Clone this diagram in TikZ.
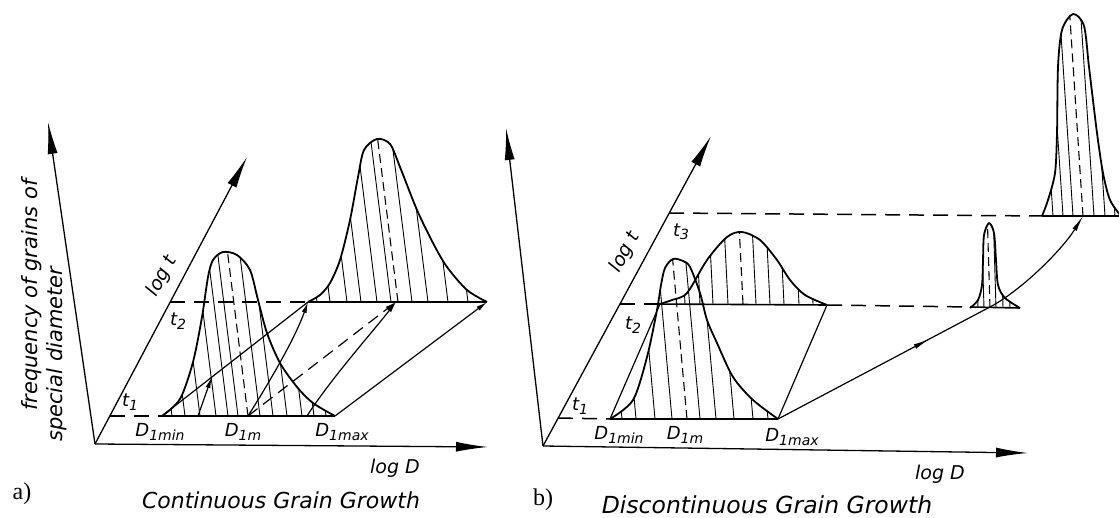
\documentclass[tikz,border=0pt]{standalone}
\usepackage{fontspec}
\setsansfont{DejaVu Sans}
\setmainfont{Liberation Serif}
\usetikzlibrary{arrows.meta,calc,decorations.markings}
% hatched distribution: coords, base y, slant, hatch xs, centre x
\newcommand\bellhatch[5]{%
  \begin{scope}
    \clip plot[smooth] coordinates {#1} -- cycle;
    \foreach \hx in {#4} \draw[hat] (\hx,#2) -- ++({-#3*260},-260);
    \draw[ctr] (#5,#2) -- ++({-#3*260},-260);
  \end{scope}
  \draw[crv] plot[smooth] coordinates {#1};}
\newcommand\sub[1]{\raisebox{-0.35ex}{\fontsize{14}{14}\selectfont#1}}

\begin{document}
\begin{tikzpicture}[x=1pt, y=-1pt,
  ax/.style={line width=1.3pt, -{Latex[length=32pt,width=10pt]}},
  crv/.style={line width=1.8pt, line join=round},
  hat/.style={line width=0.9pt},
  ctr/.style={line width=1.1pt, dash pattern=on 9pt off 5pt},
  lvl/.style={line width=1.5pt, dash pattern=on 15pt off 9pt},
  base/.style={line width=1.6pt},
  e/.style={line width=1.2pt, -{Latex[length=11pt,width=5pt]}},
  mid/.style={line width=1.2pt, postaction=decorate, decoration={markings,
    mark=at position #1 with {\arrow{Latex[length=16pt,width=5pt]}}}},
  lbl/.style={font=\sffamily\itshape\fontsize{18}{18}\selectfont, inner sep=1pt},
  lg/.style={font=\sffamily\itshape\fontsize{19}{19}\selectfont, inner sep=1pt},
  ttl/.style={font=\sffamily\itshape\fontsize{22}{22}\selectfont, inner sep=1pt},
  capt/.style={font=\rmfamily\fontsize{24}{24}\selectfont, inner sep=1pt}]
\useasboundingbox (0,0) rectangle (1119,518);

% ---- a) continuous
\coordinate (oa) at (95,444); \coordinate (fa) at (48,122);
\coordinate (da) at (488,447); \coordinate (ta) at (247,157);
\coordinate (a1) at (110,416); \coordinate (a2) at (170,302);
\coordinate (p1min) at (162,416); \coordinate (p1m) at (248,416); \coordinate (p1max) at (335,416);
\coordinate (p2min) at (308,302); \coordinate (p2m) at (396,302); \coordinate (p2max) at (487,302);
\draw[ax] (oa) -- (fa); \draw[ax] (oa) -- (da); \draw[ax] (oa) -- (ta);
\draw[lvl] (a1) -- (p1min); \draw[base] (p1min) -- (p1max);
\draw[lvl] (a2) -- (p2min); \draw[base] (p2min) -- (p2max);
\bellhatch{(162,416) (180,399) (193,362) (202,317) (208,277) (213,260) (223,252) (237,255) (250,270) (258,300) (267,333) (280,363) (297,387) (313,403) (335,416)}{416}{0.125}{172,185,200,216,228,238,260,273,287,302,314,326}{248}
\bellhatch{(308,302) (320,295) (330,283) (340,260) (350,220) (358,177) (364,150) (377,139) (390,144) (400,167) (417,210) (433,243) (447,267) (467,290) (487,302)}{302}{0.125}{317,330,347,361,377,391,412,428,448,468}{398}
\draw[line width=1.2pt] (p1min) -- (p2min);
\draw[e] (198,416) -- ($(p1min)!0.34!(p2min)$);
\draw[e] (p1m) .. controls (272,378) and (295,338) .. (p2min);
\draw[e, dash pattern=on 12pt off 7pt] (p1m) -- (p2m);
\draw[e] (307,416) .. controls (330,380) and (370,335) .. (p2m);
\draw[e] (p1max) -- (p2max);
\node[lbl] (t1a) at (130,402) {t\sub{1}};
\node[lbl] (t2a) at (178,321) {t\sub{2}};
\node[lg, rotate=62] (lta) at (162,276) {log t};
\node[lbl] (dmina) at (160,432) {D\sub{1min}};
\node[lbl] (dma) at (243,432) {D\sub{1m}};
\node[lbl] (dmaxa) at (342,432) {D\sub{1max}};
\node[lg] (lda) at (395,468) {log D};
\node[ttl, font=\sffamily\itshape\fontsize{21}{21}\selectfont, rotate=90, anchor=base west] (fq1) at (37,412) {frequency of grains of};
\node[ttl, font=\sffamily\itshape\fontsize{21}{21}\selectfont, rotate=90, anchor=base west] (fq2) at (62,443) {special diameter};
\node[capt] (capa) at (22,494) {a)};
\node[ttl] (tta) at (281,500) {Continuous Grain Growth};

% ---- b) discontinuous
\coordinate (ob) at (543,446); \coordinate (fb) at (506,128);
\coordinate (db) at (1028,453); \coordinate (tb) at (711,136);
\coordinate (b1) at (558,418); \coordinate (b2) at (620,304); \coordinate (b3) at (669,213);
\coordinate (r1min) at (610,419); \coordinate (r1max) at (778,419);
\coordinate (r2a) at (652,304); \coordinate (r2min) at (660,304); \coordinate (r2max) at (827,305);
\coordinate (r3a) at (970,307); \coordinate (r3) at (988,308); \coordinate (r3b) at (1020,308);
\coordinate (r4a) at (1042,216); \coordinate (r4) at (1083,216); \coordinate (r4b) at (1119,216);
\draw[ax] (ob) -- (fb); \draw[ax] (ob) -- (db); \draw[ax] (ob) -- (tb);
\draw[lvl] (b1) -- (r1min); \draw[base] (r1min) -- (r1max);
\draw[lvl] (b2) -- (r2a); \draw[base] (r2a) -- (r2max);
\draw[lvl] (r2max) -- (r3a); \draw[base] (r3a) -- (r3b);
\draw[lvl] (b3) -- (r4a); \draw[base] (r4a) -- (r4b);
\bellhatch{(610,419) (633,400) (647,357) (657,310) (661,285) (665,268) (673,259) (683,261) (690,267) (700,293) (707,320) (717,343) (733,377) (753,400) (778,419)}{419}{0.09}{622,636,655,672,700,716,734,753,768}{687}
\bellhatch{(660,304) (672,300) (687,293) (707,260) (727,237) (742,232) (760,240) (777,260) (790,280) (805,295) (827,305)}{304}{0.05}{685,700,713,728,756,770,784,799,813}{743}
\bellhatch{(970,308) (978,300) (982,285) (983,260) (984,235) (989,223) (994,233) (996,260) (998,285) (1005,298) (1020,308)}{308}{0.03}{978,984,996,1003,1010}{990}
\bellhatch{(1042,216) (1048,200) (1055,173) (1057,133) (1058,67) (1062,30) (1073,14) (1084,26) (1089,67) (1097,133) (1103,173) (1110,200) (1121,216)}{216}{0.066}{1053,1063,1073,1094,1105,1115}{1083}
\draw[line width=1.2pt] (r1min) -- (r2min);
\draw[line width=1.2pt] (r1max) -- (r2max);
\draw[mid=0.72] (r1max) -- (r3);
\draw[line width=1.2pt, -{Latex[length=16pt,width=5pt]}] (r3) .. controls (1020,292) and (1062,250) .. (r4);
\node[lbl] (t1b) at (580,406) {t\sub{1}};
\node[lbl] (t2b) at (633,325) {t\sub{2}};
\node[lbl] (t3b) at (681,232) {t\sub{3}};
\node[lg, rotate=62] (ltb) at (625,252) {log t};
\node[lbl] (dminb) at (619,435) {D\sub{1min}};
\node[lbl] (dmb) at (685,435) {D\sub{1m}};
\node[lbl] (dmaxb) at (792,437) {D\sub{1max}};
\node[lg] (ldb) at (940,474) {log D};
\node[capt] (capb) at (543,500) {b)};
\node[ttl, font=\sffamily\itshape\fontsize{23.5}{23.5}\selectfont] (ttb) at (767,505) {Discontinuous Grain Growth};
\end{tikzpicture}
\end{document}
